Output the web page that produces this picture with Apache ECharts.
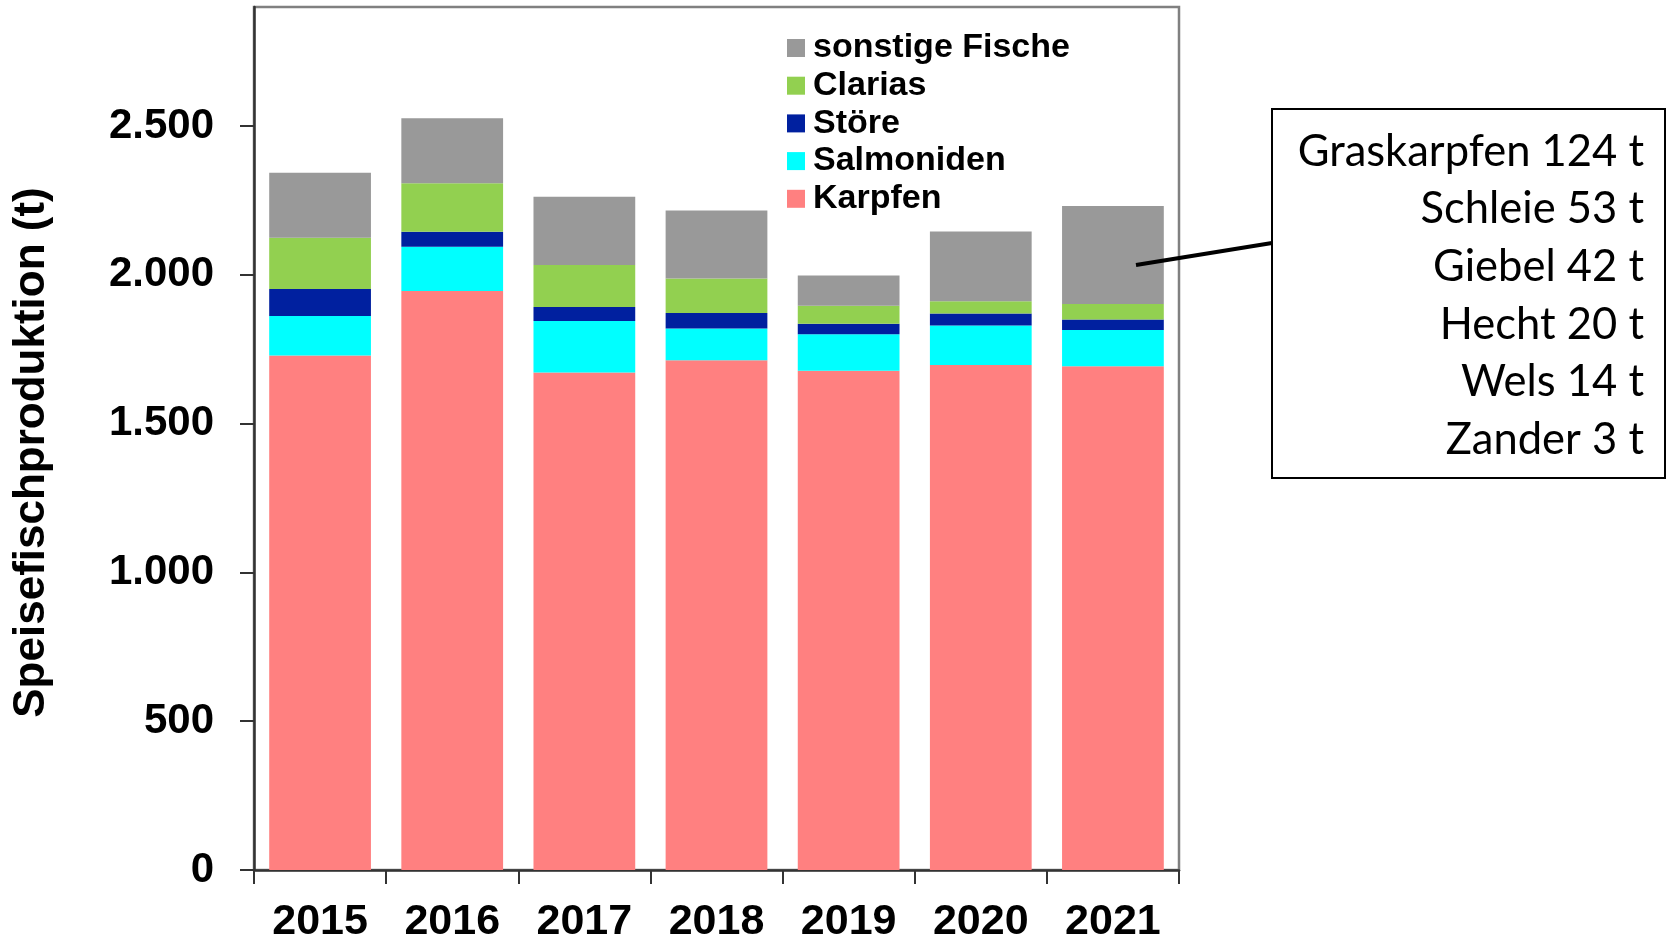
<!DOCTYPE html>
<html>
<head>
<meta charset="utf-8">
<script src="https://cdn.jsdelivr.net/npm/echarts@6/dist/echarts.min.js"></script>
<style>
  html, body { margin: 0; padding: 0; background: #fff; }
  #chart { width: 1674px; height: 944px; }
</style>
</head>
<body>
<div id="chart"></div>
<script>
const years = ["2015", "2016", "2017", "2018", "2019", "2020", "2021"];
const karpfen = [1729, 1946, 1672, 1713, 1678, 1697, 1693];
const salmoniden = [133, 148, 173, 107, 122, 133, 122];
const stoere = [90, 51, 47, 52, 36, 40, 35];
const clarias = [173, 163, 141, 116, 60, 41, 52];
const sonstige = [218, 218, 229, 228, 102, 235, 329];
const yTicks = [0, 500, 1000, 1500, 2000, 2500];
const annotationLines = [
  "Graskarpfen 124 t",
  "Schleie 53 t",
  "Giebel 42 t",
  "Hecht 20 t",
  "Wels 14 t",
  "Zander 3 t",
];

const chart = echarts.init(document.getElementById("chart"));

function formatThousands(value) {
  return String(value).replace(/\B(?=(\d{3})+(?!\d))/g, ".");
}

function barSeries(name, data, color) {
  return {
    name: name,
    type: "bar",
    stack: "total",
    data: data,
    barCategoryGap: "23%",
    itemStyle: { color: color },
  };
}

const boldFont = "Liberation Sans, Arial, sans-serif";

chart.setOption({
  backgroundColor: "#fff",
  animation: false,
  grid: {
    left: 254,
    right: 495,
    top: 7,
    bottom: 72,
    show: true,
    borderColor: "#808080",
    borderWidth: 2.5,
  },
  legend: {
    orient: "vertical",
    left: 782,
    top: 26,
    itemWidth: 18,
    itemHeight: 18,
    itemGap: 3.7,
    icon: "rect",
    data: ["sonstige Fische", "Clarias", "Störe", "Salmoniden", "Karpfen"],
    textStyle: {
      fontFamily: boldFont,
      fontWeight: "bold",
      fontSize: 34,
      lineHeight: 34,
      color: "#000",
      padding: [0, 0, 0, 3],
    },
  },
  xAxis: {
    type: "category",
    data: years,
    axisLine: { lineStyle: { color: "#333", width: 2.5 } },
    axisTick: { show: true, length: 14, lineStyle: { color: "#333", width: 2 } },
    axisLabel: {
      fontFamily: boldFont,
      fontWeight: "bold",
      fontSize: 43,
      color: "#000",
      margin: 31,
    },
  },
  yAxis: {
    type: "value",
    min: yTicks[0],
    max: 2900,
    interval: 500,
    name: "Speisefischproduktion (t)",
    nameLocation: "middle",
    nameGap: 200,
    nameTextStyle: {
      fontFamily: boldFont,
      fontWeight: "bold",
      fontSize: 44,
      color: "#000",
      padding: [0, 28, 0, 0],
    },
    splitLine: { show: false },
    axisLine: { show: true, lineStyle: { color: "#333", width: 2.5 } },
    axisTick: { show: true, length: 14, lineStyle: { color: "#333", width: 2 } },
    axisLabel: {
      fontFamily: boldFont,
      fontWeight: "bold",
      fontSize: 42,
      color: "#000",
      margin: 40,
      showMaxLabel: false,
      formatter: (v) => (yTicks.includes(v) ? formatThousands(v) : ""),
    },
  },
  series: [
    barSeries("Karpfen", karpfen, "#FF8080"),
    barSeries("Salmoniden", salmoniden, "#00FFFF"),
    barSeries("Störe", stoere, "#00209F"),
    barSeries("Clarias", clarias, "#92D050"),
    barSeries("sonstige Fische", sonstige, "#999999"),
  ],
  graphic: [
    {
      type: "line",
      shape: { x1: 1136, y1: 265, x2: 1272, y2: 243 },
      style: { stroke: "#000", lineWidth: 4 },
      z: 10,
    },
    {
      type: "rect",
      shape: { x: 1272, y: 109, width: 393, height: 369 },
      style: { fill: "#fff", stroke: "#000", lineWidth: 2 },
      z: 10,
    },
    {
      type: "text",
      x: 1644,
      y: 123,
      z: 11,
      style: {
        text: annotationLines.join("\n"),
        align: "right",
        verticalAlign: "top",
        fontFamily: "Lato, Carlito, sans-serif",
        fontSize: 43.5,
        lineHeight: 57.6,
        fill: "#000",
      },
    },
  ],
});
</script>
</body>
</html>
